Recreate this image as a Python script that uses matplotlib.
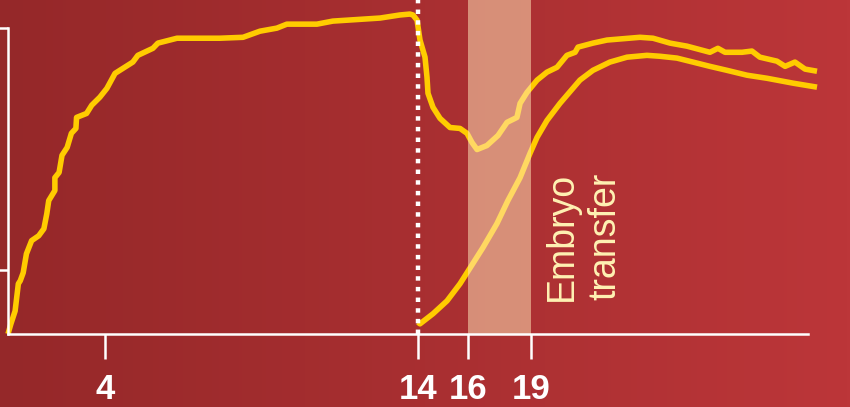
import numpy as np
import matplotlib
matplotlib.use("Agg")
import matplotlib.pyplot as plt

# ---- data -------------------------------------------------------------
# Cycle day vs. relative hormone level (0-100)
curve_a_day = [1.0, 1.09, 1.22, 1.32, 1.38, 1.47, 1.57, 1.73, 1.95, 2.11, 2.2, 2.26,
               2.45, 2.45, 2.58, 2.67, 2.83, 2.96, 3.1, 3.12, 3.43, 3.59, 3.84, 4.06,
               4.32, 4.89, 5.05, 5.53, 5.69, 6.30, 7.67, 8.41, 8.95, 9.49, 9.81, 10.77,
               11.28, 12.79, 13.42, 13.74, 13.84, 13.97, 14.08, 14.28, 14.36, 14.4, 14.6,
               14.88, 15.28, 15.68, 15.96, 16.19, 16.43, 16.9, 17.43, 17.86, 18.33, 18.48,
               18.81, 19.29, 19.76, 20.24, 20.71, 21.10, 21.24, 21.95, 22.62, 24.19, 24.81,
               25.62, 26.43, 27.52, 27.90, 28.24, 29.05, 29.52, 29.90, 30.71, 31.10, 31.57,
               32.05, 32.62]
curve_a_val = [0, 3.3, 7.5, 16.4, 17.4, 20.0, 26.2, 30.5, 32.1, 34.4, 39.3, 43.6,
               46.9, 51.1, 52.8, 58.4, 61.0, 65.6, 67.2, 70.8, 72.1, 74.8, 77.4, 80.3,
               85.2, 88.9, 91.1, 93.4, 95.1, 96.7, 96.7, 97.0, 99.0, 100.0, 101.3, 101.3,
               102.3, 103.3, 104.3, 104.6, 104.3, 102.6, 96.1, 90.5, 83.9, 78.7, 74.1,
               70.5, 67.5, 67.2, 65.6, 62.6, 60.3, 61.6, 64.9, 69.2, 70.8, 75.4,
               79.0, 83.0, 85.6, 87.2, 91.1, 92.1, 93.8, 95.1, 96.1, 97.0, 96.7,
               95.1, 94.1, 92.1, 93.4, 92.1, 92.1, 92.5, 90.5, 89.2, 87.5, 88.9,
               86.6, 85.9]

curve_b_day = [14.0, 14.08, 14.6, 15.16, 15.68, 16.1, 16.71, 17.38, 17.9, 18.48, 18.95,
               19.29, 19.76, 20.38, 21.33, 21.95, 22.76, 23.57, 24.52, 25.14, 25.95,
               26.71, 27.52, 28.33, 29.29, 30.24, 31.48, 32.62]
curve_b_val = [3.8, 3.3, 6.6, 10.8, 16.4, 21.6, 28.2, 36.1, 43.6, 51.1, 59.0,
               64.3, 69.8, 75.4, 83.0, 86.2, 88.9, 90.5, 91.1, 90.8, 90.2,
               88.9, 87.5, 86.2, 84.6, 83.6, 82.0, 80.7]

tick_days = [4, 14, 16, 19]
tick_labels = ["4", "14", "16", "19"]
y_ticks = [21, 100]
cutoff_day = 14
transfer_window = (16, 19)
transfer_label = "Embryo\ntransfer"

# ---- piecewise day axis (schematic spacing) ---------------------------
knot_days = np.array([-5.0, 1.0, 4.0, 14.0, 16.0, 19.0, 60.0])
knot_pos = np.array([-186.0, 8.0, 105.0, 418.0, 468.0, 531.0, 1392.0])


def fwd(d):
    return np.interp(d, knot_days, knot_pos)


def inv(p):
    return np.interp(p, knot_pos, knot_days)


W, H = 850, 407
fig = plt.figure(figsize=(W / 100, H / 100), dpi=100)

# horizontal red gradient backdrop
bg = fig.add_axes([0, 0, 1, 1], zorder=0)
c0 = np.array([0x95, 0x28, 0x29]) / 255
c1 = np.array([0xbc, 0x36, 0x39]) / 255
t = np.linspace(0, 1, 256)[None, :, None]
grad = c0 + (c1 - c0) * t
bg.imshow(grad, aspect="auto", extent=[0, 1, 0, 1])
bg.set_axis_off()

ax = fig.add_axes([0, 0, 1, 1], zorder=1)
ax.set_facecolor("none")
ax.set_xscale("function", functions=(fwd, inv))
ax.set_xlim(inv(0), inv(W))
ax.set_ylim(-23.9, 109.2)

yellow = "#ffcc00"
ax.plot(curve_a_day, curve_a_val, color=yellow, lw=4.0,
        solid_joinstyle="round", solid_capstyle="butt", zorder=3)
ax.plot(curve_b_day, curve_b_val, color=yellow, lw=4.0,
        solid_joinstyle="round", solid_capstyle="butt", zorder=3)

# transfer window band, drawn over the curves
ax.fill_between(transfer_window, 0, 120, color="#ffe4b8", alpha=0.53,
                lw=0, zorder=4)

# dotted cutoff line
ax.plot([cutoff_day, cutoff_day], [0, 120], color="white", lw=3.2,
        linestyle=(0, (1, 1.4)), dash_capstyle="butt", zorder=5)

ax.text(21.5, 32, transfer_label, rotation=90, ha="center", va="center",
        multialignment="center", color="#fff2b3", fontsize=27,
        family="Liberation Sans", linespacing=1.25, zorder=6)

# axes styling
for s in ("top", "right"):
    ax.spines[s].set_visible(False)
ax.spines["left"].set_position(("data", 1))
ax.spines["bottom"].set_position(("data", 0))
ax.spines["left"].set_bounds(0, 100)
ax.spines["bottom"].set_bounds(1, inv(808))
for s in ("left", "bottom"):
    ax.spines[s].set_color("white")
    ax.spines[s].set_linewidth(1.8)
    ax.spines[s].set_zorder(6)

ax.set_xticks(tick_days)
ax.set_xticklabels(tick_labels)
ax.set_yticks(y_ticks)
ax.set_yticklabels([])
ax.tick_params(axis="x", direction="out", length=18, width=1.8, color="white",
               pad=10, labelsize=25, labelcolor="white")
ax.tick_params(axis="y", direction="out", length=7, width=1.8, color="white")
for lab in ax.get_xticklabels():
    lab.set_fontweight("bold")
    lab.set_family("Liberation Sans")
ax.minorticks_off()

fig.savefig("out.png", dpi=100)
